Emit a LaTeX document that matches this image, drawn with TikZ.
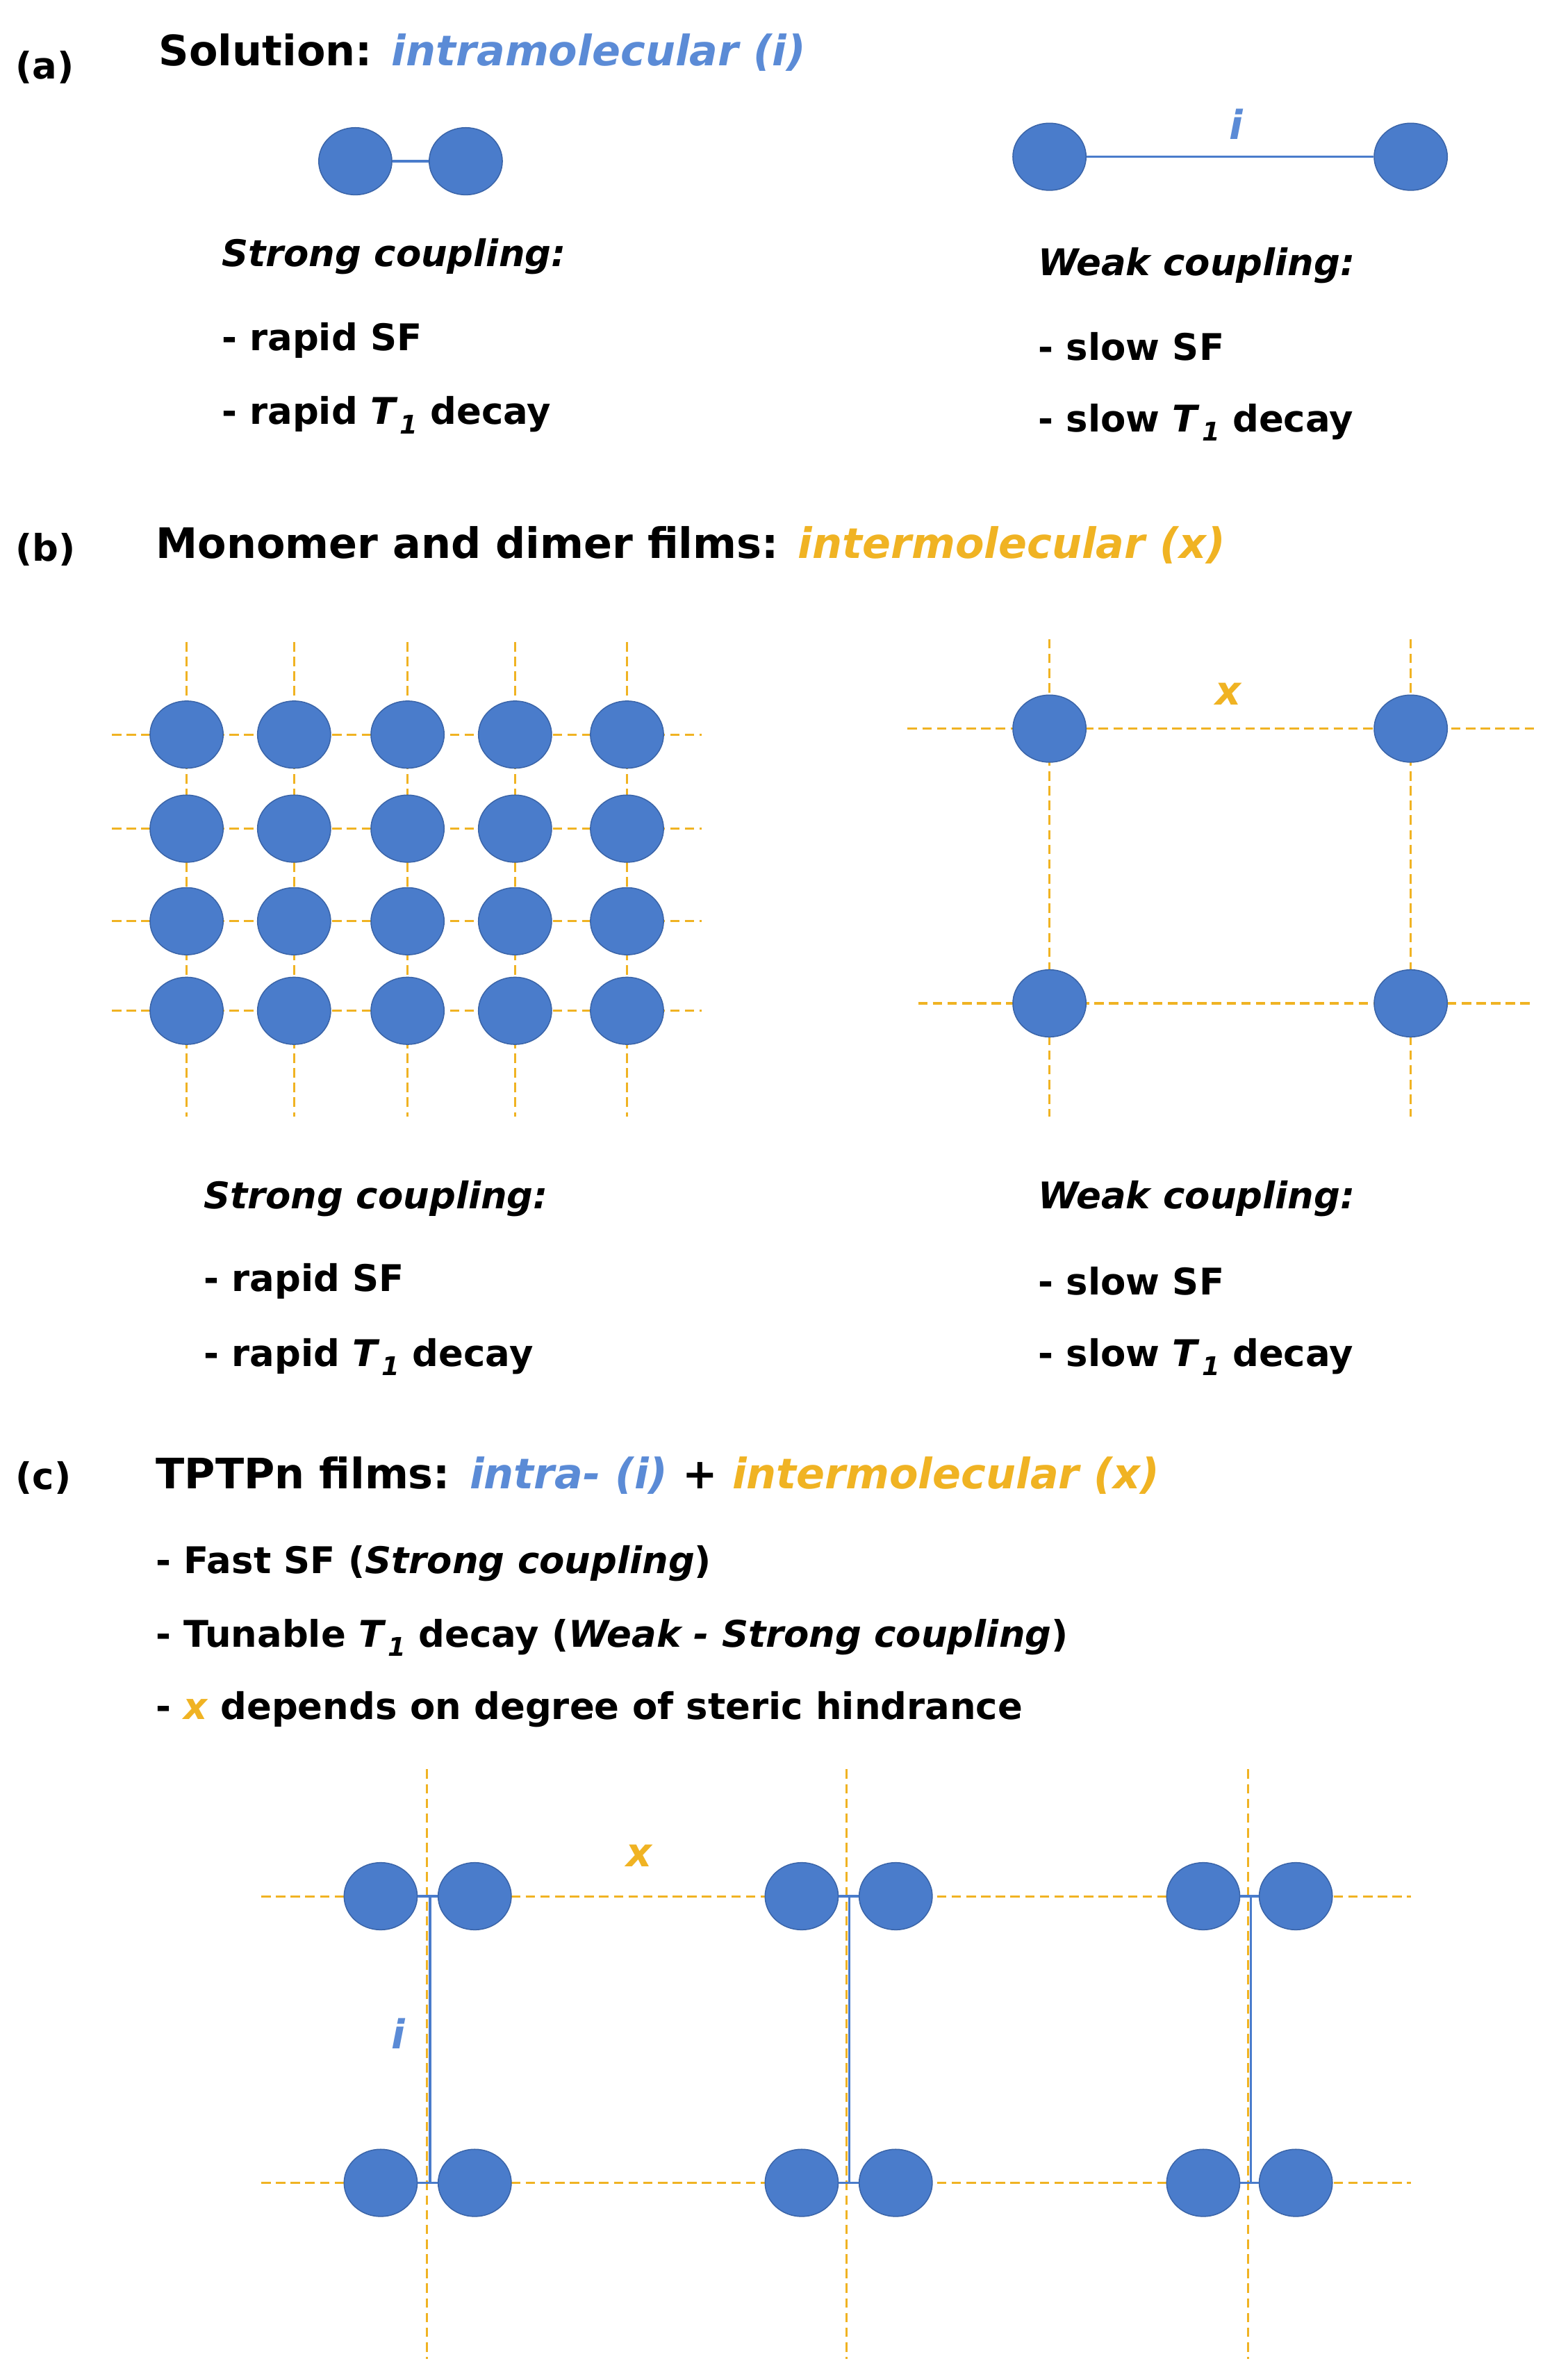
\documentclass[tikz,border=0pt]{standalone}
\usepackage{fontspec}
\usetikzlibrary{shapes.geometric}
\setmainfont{DejaVu Sans}
\definecolor{cblue}{HTML}{4A7CCB}
\definecolor{cedge}{HTML}{3A64A8}
\definecolor{tblue}{HTML}{5B8BD6}
\definecolor{corange}{HTML}{F0B323}
\newcommand{\Tone}{\textit{T}\kern0.05em\raisebox{-0.25em}{\scalebox{0.7}{\textit{1}}}}
\begin{document}
\begin{tikzpicture}[x=0.05cm,y=-0.05cm,
  mol/.style={ellipse,draw=cedge,fill=cblue,line width=1pt,minimum width=49*0.05cm,minimum height=45*0.05cm,inner sep=0pt},
  odash/.style={corange,line width=2pt,dash pattern=on 9pt off 5pt},
  ilink/.style={cblue,line width=2.2pt},
  title/.style={anchor=west,font=\fontsize{40}{46}\selectfont\bfseries},
  body/.style={anchor=west,font=\fontsize{35}{42}\selectfont\bfseries},
  lab/.style={font=\fontsize{38}{44}\selectfont\bfseries\itshape}]
\useasboundingbox (0,0) rectangle (1050,1586);
% (a)
\node[body] (la) at (8,45) {(a)};
\node[title] (ta) at (104,35) {Solution: \textcolor{tblue}{\itshape intramolecular (i)}};
\node[mol] (a1) at (238,108) {}; \node[mol] (a2) at (312,108) {};
\draw[ilink] (a1) -- (a2);
\node[mol] (a3) at (703,105) {}; \node[mol] (a4) at (945,105) {};
\draw[ilink] (a3) -- (a4);
\node[lab,text=tblue] (ai) at (828,83) {i};
\node[body] (s1) at (146,172) {\itshape Strong coupling:};
\node[body] (s2) at (146,228) {- rapid SF};
\node[body] (s3) at (146,278) {- rapid \Tone\ decay};
\node[body] (w1) at (693,178) {\itshape Weak coupling:};
\node[body] (w2) at (693,232) {- slow SF};
\node[body] (w3) at (693,283) {- slow \Tone\ decay};
% (b)
\node[body] (lb) at (8,368) {(b)};
\node[title] (tb) at (102,365) {Monomer and dimer films: \textcolor{corange}{\itshape intermolecular (x)}};
\foreach \x in {125,197,273,345,420} \draw[odash] (\x,430) -- (\x,748);
\foreach \y in {492,555,617,677} \draw[odash] (75,\y) -- (470,\y);
\foreach \x [count=\i] in {125,197,273,345,420}
  \foreach \y [count=\j] in {492,555,617,677}
    \node[mol] (g\i\j) at (\x,\y) {};
\draw[odash] (703,428) -- (703,748);
\draw[odash] (945,428) -- (945,748);
\draw[odash] (608,488) -- (1028,488);
\draw[odash] (615,672) -- (1025,672);
\node[mol] (b1) at (703,488) {}; \node[mol] (b2) at (945,488) {};
\node[mol] (b3) at (703,672) {}; \node[mol] (b4) at (945,672) {};
\node[lab,text=corange] (bx) at (823,465) {x};
\node[body] (s4) at (134,803) {\itshape Strong coupling:};
\node[body] (s5) at (134,858) {- rapid SF};
\node[body] (s6) at (134,909) {- rapid \Tone\ decay};
\node[body] (w4) at (693,803) {\itshape Weak coupling:};
\node[body] (w5) at (693,858) {- slow SF};
\node[body] (w6) at (693,909) {- slow \Tone\ decay};
% (c)
\node[body] (lc) at (8,990) {(c)};
\node[title] (tc) at (102,988) {TPTPn films: \textcolor{tblue}{\itshape intra- (i)} + \textcolor{corange}{\itshape intermolecular (x)}};
\node[body] (c1) at (102,1047) {- Fast SF (\textit{Strong coupling})};
\node[body] (c2) at (102,1097) {- Tunable \Tone\ decay (\textit{Weak - Strong coupling})};
\node[body] (c3) at (102,1145) {- \textcolor{corange}{\itshape x} depends on degree of steric hindrance};
\foreach \x in {286,567,836} \draw[odash] (\x,1185) -- (\x,1580);
\draw[odash] (175,1270) -- (945,1270);
\draw[odash] (175,1462) -- (945,1462);
\foreach \c/\l/\r [count=\k] in {286/255/318,567/537/600,836/806/868}{
  \draw[ilink] (\c+2,1270) -- (\c+2,1462);
  \node[mol] (u\k l) at (\l,1270) {}; \node[mol] (u\k r) at (\r,1270) {};
  \node[mol] (d\k l) at (\l,1462) {}; \node[mol] (d\k r) at (\r,1462) {};
  \draw[ilink] (u\k l) -- (u\k r);
  \draw[ilink] (d\k l) -- (d\k r);
}
\node[lab,text=corange] (cx) at (428,1243) {x};
\node[lab,text=tblue] (ci) at (267,1362) {i};
\end{tikzpicture}
\end{document}
